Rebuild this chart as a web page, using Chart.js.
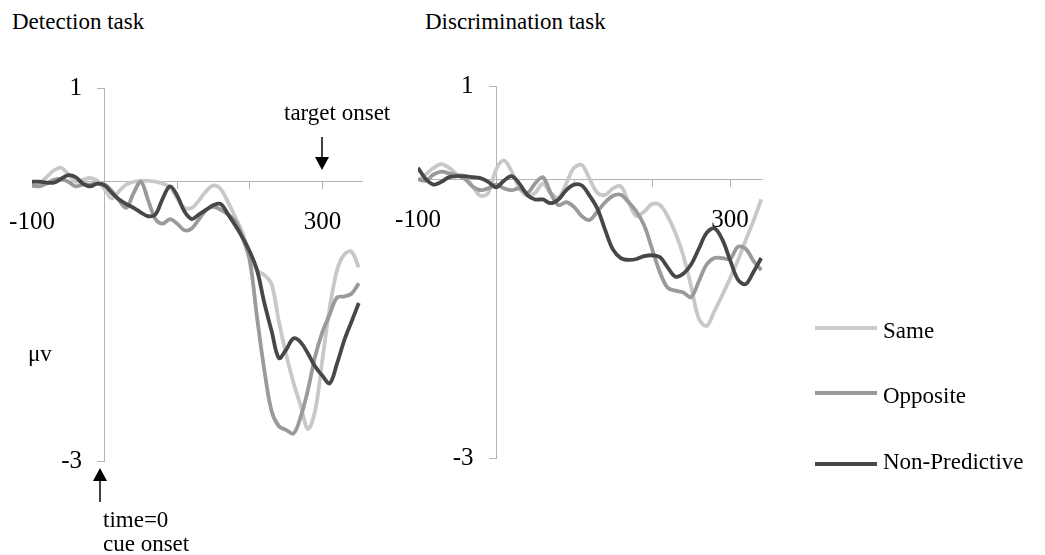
<!DOCTYPE html>
<html>
<head>
<meta charset="utf-8">
<script src="https://cdn.jsdelivr.net/npm/chart.js@4.4.1/dist/chart.umd.min.js"></script>
<style>
  body { margin: 0; background: #fff; width: 1045px; height: 555px; overflow: hidden; position: relative;
         font-family: "Liberation Serif", "Times New Roman", serif; color: #000; }
  .t { position: absolute; font-size: 23px; line-height: 23px; white-space: nowrap; }
  .panel { position: absolute; top: 40px; width: 400px; height: 470px; }
  .key { position: absolute; left: 815px; width: 62px; height: 4px; }
  svg { position: absolute; left: 0; top: 0; }
</style>
</head>
<body>
<div class="t" style="left:12px;top:10px">Detection task</div>
<div class="t" style="left:425px;top:10px">Discrimination task</div>

<div class="panel" style="left:-13.5px"><canvas id="detection" width="400" height="470"></canvas></div>
<div class="panel" style="left:373px"><canvas id="discrimination" width="400" height="470"></canvas></div>

<div class="t" style="left:284px;top:101px">target onset</div>
<div class="t" style="left:28px;top:342px">&#956;v</div>
<div class="t" style="left:103px;top:508px">time=0</div>
<div class="t" style="left:103px;top:532px">cue onset</div>

<svg width="1045" height="555">
  <line x1="322" y1="137" x2="322" y2="160" stroke="#000" stroke-width="1.5"/>
  <polygon points="315,157 329,157 322,170" fill="#000"/>
  <line x1="100" y1="478" x2="100" y2="502" stroke="#000" stroke-width="1.5"/>
  <polygon points="93,481 107,481 100,468" fill="#000"/>
</svg>

<div class="key" style="top:326px;background:#cbcbcb"></div>
<div class="key" style="top:391px;background:#9a9a9a"></div>
<div class="key" style="top:462px;background:#484848"></div>
<div class="t" style="left:883px;top:319px">Same</div>
<div class="t" style="left:883px;top:384px">Opposite</div>
<div class="t" style="left:883px;top:450px">Non-Predictive</div>

<script>
// time axis (ms), 10 ms steps
const timesDetection = [-100,-90,-80,-70,-60,-50,-40,-30,-20,-10,0,10,20,30,40,50,60,70,80,90,100,110,120,130,140,150,160,170,180,190,200,210,220,230,240,250,260,270,280,290,300,310,320,330,340,350];
const timesDiscrimination = [-100,-90,-80,-70,-60,-50,-40,-30,-20,-10,0,10,20,30,40,50,60,70,80,90,100,110,120,130,140,150,160,170,180,190,200,210,220,230,240,250,260,270,280,290,300,310,320,330,340];

// Detection task (µV)
const sameDetection = [-0.05,-0.02,0.05,0.12,0.15,0.08,0.0,0.02,0.04,0.01, -0.08,-0.18,-0.1,-0.03,0.0,0.01,0.01,0.0,-0.02,-0.06, -0.18,-0.28,-0.28,-0.2,-0.1,-0.04,-0.08,-0.22,-0.38,-0.55, -0.78,-0.95,-1.0,-1.1,-1.5,-1.85,-2.15,-2.4,-2.65,-2.45, -1.9,-1.35,-0.95,-0.78,-0.75,-0.92];
const oppositeDetection = [-0.04,-0.05,-0.02,0.02,0.03,0.0,-0.05,-0.03,-0.03,-0.02, -0.03,-0.1,-0.2,-0.28,-0.12,0.0,-0.2,-0.4,-0.45,-0.4, -0.45,-0.52,-0.5,-0.4,-0.3,-0.27,-0.3,-0.35,-0.42,-0.6, -0.85,-1.46,-2.02,-2.46,-2.62,-2.66,-2.7,-2.52,-2.23,-1.87, -1.61,-1.42,-1.24,-1.23,-1.2,-1.09];
const nonPredDetection = [0.0,0.0,-0.01,-0.01,0.03,0.07,0.05,-0.02,-0.05,-0.02, -0.04,-0.12,-0.19,-0.24,-0.28,-0.33,-0.37,-0.35,-0.18,-0.05, -0.15,-0.32,-0.4,-0.35,-0.3,-0.25,-0.24,-0.35,-0.47,-0.6, -0.75,-0.95,-1.3,-1.6,-1.89,-1.8,-1.68,-1.72,-1.84,-1.98, -2.08,-2.16,-1.95,-1.7,-1.5,-1.3];

// Discrimination task (µV)
const sameDiscrimination = [-0.02,0.05,0.12,0.16,0.12,0.05,0.03,-0.08,-0.18,-0.15, 0.1,0.2,0.08,-0.1,-0.18,-0.15,-0.05,-0.15,-0.2,-0.05, 0.12,0.15,0.0,-0.15,-0.17,-0.1,-0.08,-0.25,-0.4,-0.35, -0.27,-0.28,-0.4,-0.58,-0.82,-1.15,-1.5,-1.58,-1.42,-1.25, -1.07,-0.88,-0.66,-0.45,-0.22];
const oppositeDiscrimination = [0.0,-0.02,0.05,0.08,0.06,0.04,0.0,-0.08,-0.12,-0.1, -0.06,-0.1,-0.12,-0.1,-0.15,-0.05,0.02,-0.15,-0.28,-0.25, -0.3,-0.4,-0.44,-0.35,-0.25,-0.18,-0.17,-0.25,-0.35,-0.5, -0.75,-1.0,-1.17,-1.2,-1.22,-1.27,-1.1,-0.92,-0.85,-0.85, -0.86,-0.73,-0.75,-0.88,-0.98];
const nonPredDiscrimination = [0.12,0.0,-0.06,-0.03,0.02,0.03,0.03,0.02,0.01,-0.03, -0.09,-0.02,0.03,-0.05,-0.17,-0.22,-0.22,-0.26,-0.22,-0.12, -0.06,-0.07,-0.18,-0.32,-0.55,-0.76,-0.85,-0.87,-0.86,-0.83, -0.82,-0.84,-0.95,-1.05,-1.02,-0.92,-0.75,-0.58,-0.53,-0.65, -0.87,-1.08,-1.13,-1.0,-0.85];

const seriesNames = ["Same", "Opposite", "Non-Predictive"];
const seriesColors = ["#c8c8c8", "#9a9a9a", "#474747"];
const xTickValues = [-100, 100, 200, 300];
const xTickLabels = [-100, 300];
const yTickValues = [-3, 1];

Chart.defaults.font.family = "'Liberation Serif', 'Times New Roman', serif";
Chart.defaults.color = "#000";

const AXIS = "#b4b4b4";

function panel(id, times, series, xMax, padding) {
  const datasets = series.map((vals, i) => ({
    label: seriesNames[i],
    data: times.map((t, k) => ({ x: t, y: vals[k] })),
    borderColor: seriesColors[i],
    borderWidth: 3.8,
    pointRadius: 0,
    tension: 0.35,
    fill: false,
    order: 3 - i,
  }));
  return new Chart(document.getElementById(id), {
    type: "line",
    data: { datasets },
    options: {
      responsive: false, animation: false,
      layout: { padding },
      plugins: { legend: { display: false }, tooltip: { enabled: false } },
      scales: {
        x: {
          type: "linear", min: -100, max: xMax, position: { y: 0 },
          border: { color: AXIS, width: 1 },
          grid: { drawOnChartArea: false, tickLength: 7,
                  color: (c) => (c.tick && c.tick.value === -100 ? "rgba(0,0,0,0)" : AXIS) },
          afterBuildTicks: (s) => { s.ticks = xTickValues.map((v) => ({ value: v })); },
          ticks: { autoSkip: false, maxRotation: 0, padding: 19, font: { size: 25 },
                   callback: (v) => (xTickLabels.includes(v) ? String(v) : "") },
        },
        y: {
          type: "linear", min: -3, max: 1, position: { x: 0 },
          border: { color: AXIS, width: 1 },
          grid: { drawOnChartArea: false, tickLength: 7, color: AXIS },
          afterBuildTicks: (s) => { s.ticks = yTickValues.map((v) => ({ value: v })); },
          // labels sit at the axis line when it is placed by value, so pad with trailing spaces
          ticks: { font: { size: 25 }, callback: (v) => String(v) + "\u2002\u2009\u2009" },
        },
      },
    },
  });
}

panel("detection", timesDetection, [sameDetection, oppositeDetection, nonPredDetection], 355,
      { left: 45, right: 24.6, top: 48.4, bottom: 48.3 });
panel("discrimination", timesDiscrimination, [sameDiscrimination, oppositeDiscrimination, nonPredDiscrimination], 342,
      { left: 45, right: 10.2, top: 46, bottom: 52 });
</script>
</body>
</html>
